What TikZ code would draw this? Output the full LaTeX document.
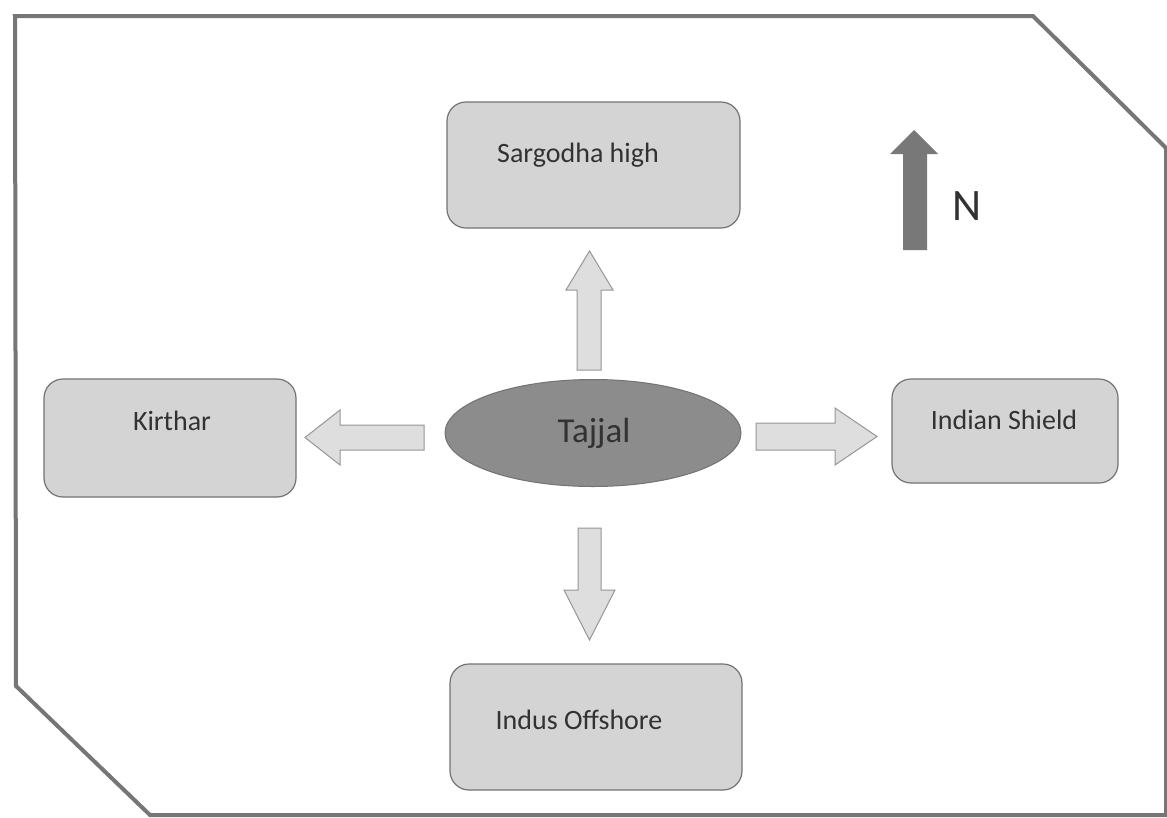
\documentclass[tikz,border=0pt]{standalone}
\usepackage{fontspec}
\setmainfont{Carlito}
\usetikzlibrary{shapes.geometric}
\definecolor{boxfill}{RGB}{212,212,212}
\definecolor{boxline}{RGB}{115,115,115}
\definecolor{ellfill}{RGB}{140,140,140}
\definecolor{arrfill}{RGB}{222,222,222}
\definecolor{arrline}{RGB}{150,150,150}
\definecolor{narrow}{RGB}{120,120,120}
\definecolor{frame}{RGB}{118,118,118}
\definecolor{txt}{RGB}{50,50,50}
\tikzset{
  region/.style={draw=boxline, fill=boxfill, line width=1.2pt, rounded corners=19pt},
  lbl/.style={text=txt, font=\fontsize{28}{32}\selectfont, inner sep=0pt},
  blockarrow/.style={draw=arrline, fill=arrfill, line width=1pt, line join=miter},
}
\begin{document}
\begin{tikzpicture}[x=1pt,y=-1pt]
\useasboundingbox (0,0) rectangle (1167,817);
\fill[white] (0,0) rectangle (1167,817);
% outer frame
\draw[frame, line width=4pt, line join=miter] (15,16) -- (1033,16) -- (1166,148) -- (1166,815) -- (150,815) -- (16,686) -- cycle;
% regions
\node[region, minimum width=293pt, minimum height=126pt] (sar) at (593.5,165) {};
\node[lbl] (sarl) at (578,155) {Sargodha high};
\node[region, minimum width=252pt, minimum height=118pt] (kir) at (170,438) {};
\node[lbl] (kirl) at (172,421) {Kirthar};
\node[region, minimum width=226pt, minimum height=104pt] (ind) at (1005,431) {};
\node[lbl] (indl) at (1004,420) {Indian Shield};
\node[region, minimum width=292pt, minimum height=126pt] (off) at (596,727) {};
\node[lbl] (offl) at (579,720) {Indus Offshore};
\node[ellipse, draw=boxline, fill=ellfill, line width=1pt, minimum width=296pt, minimum height=107pt, inner sep=0pt] (taj) at (593,433) {};
\node[lbl, font=\fontsize{35}{40}\selectfont] (tajl) at (594,433) {Tajjal};
% block arrows
\draw[blockarrow] (577,370) -- (577,290) -- (566,290) -- (589.5,251) -- (613,290) -- (601,290) -- (601,370) -- cycle;
\draw[blockarrow] (578,528) -- (578,590) -- (564,590) -- (589.5,640) -- (615,590) -- (601,590) -- (601,528) -- cycle;
\draw[blockarrow] (424,425) -- (340,425) -- (340,410) -- (305,437.5) -- (340,465) -- (340,450) -- (424,450) -- cycle;
\draw[blockarrow] (756,423) -- (835,423) -- (835,408) -- (877,436.5) -- (835,465) -- (835,450) -- (756,450) -- cycle;
% north arrow
\fill[narrow] (903,250) -- (903,154) -- (890,154) -- (914,130) -- (938,154) -- (927,154) -- (927,250) -- cycle;
\node[lbl, font=\fontsize{45}{50}\selectfont] (north) at (967,206) {N};
\end{tikzpicture}
\end{document}
